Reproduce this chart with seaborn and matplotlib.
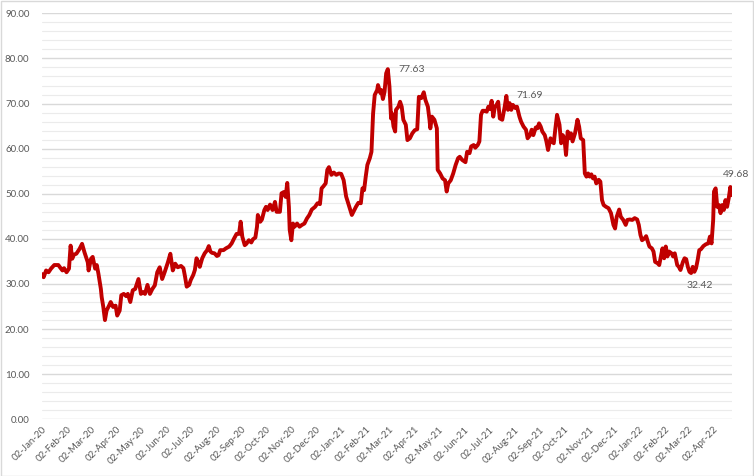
import pandas as pd
import matplotlib.pyplot as plt
import matplotlib.dates as mdates
from matplotlib.ticker import MultipleLocator, FormatStrFormatter
import seaborn as sns

# price readings, 2020
dates_2020 = ['01-02', '01-04', '01-07', '01-10', '01-13', '01-17', '01-22', '01-24', '01-27', '01-29',
              '02-01', '02-04', '02-06', '02-08', '02-10', '02-13', '02-17', '02-20', '02-23', '02-27',
              '02-28', '03-02', '03-04', '03-07', '03-09', '03-11', '03-14', '03-15', '03-17', '03-19',
              '03-21', '03-24', '03-26', '03-29', '04-01', '04-03', '04-06', '04-08', '04-11', '04-14',
              '04-16', '04-19', '04-22', '04-25', '04-29', '05-02', '05-05', '05-07', '05-10', '05-13',
              '05-16', '05-19', '05-22', '05-25', '05-28', '05-31', '06-04', '06-07', '06-10', '06-13',
              '06-16', '06-20', '06-23', '06-25', '06-27', '06-30', '07-02', '07-05', '07-07', '07-09',
              '07-11', '07-13', '07-16', '07-19', '07-22', '07-24', '07-26', '07-28', '07-31', '08-03',
              '08-05', '08-07', '08-11', '08-14', '08-18', '08-21', '08-24', '08-27', '08-30', '09-01',
              '09-03', '09-06', '09-08', '09-11', '09-14', '09-16', '09-19', '09-21', '09-22', '09-25',
              '09-27', '09-30', '10-02', '10-04', '10-07', '10-10', '10-13', '10-15', '10-19', '10-21',
              '10-24', '10-26', '10-28', '10-30', '10-31', '11-02', '11-04', '11-06', '11-09', '11-12',
              '11-15', '11-18', '11-21', '11-24', '11-27', '12-01', '12-04', '12-07', '12-09', '12-11',
              '12-14', '12-16', '12-18', '12-21', '12-24', '12-27', '12-30']
values_2020 = [32.2, 31.5, 33.0, 32.6, 33.4, 34.2, 34.2, 33.7, 33.0, 33.5,
               32.6, 33.4, 38.5, 35.6, 36.5, 36.7, 37.8, 38.9, 37.0, 34.8,
               33.0, 35.6, 36.0, 33.4, 34.2, 32.3, 28.9, 27.1, 24.9, 22.0,
               24.1, 25.2, 26.0, 24.9, 25.2, 23.0, 24.1, 27.5, 27.8, 27.3,
               27.8, 26.0, 28.6, 28.9, 31.1, 27.8, 28.2, 27.8, 29.8, 27.8,
               28.9, 29.7, 32.6, 33.7, 31.1, 32.6, 34.8, 36.7, 33.0, 34.5,
               33.7, 34.0, 33.5, 31.6, 29.4, 29.8, 30.9, 32.0, 33.1, 35.7,
               34.9, 33.8, 35.7, 36.8, 37.5, 38.4, 37.2, 36.9, 36.8, 36.2,
               36.4, 37.5, 37.5, 37.9, 38.3, 39.0, 40.1, 41.1, 41.1, 43.8,
               40.5, 38.6, 38.9, 39.7, 39.2, 39.9, 40.3, 42.7, 45.3, 43.8,
               44.3, 46.4, 47.1, 46.4, 47.6, 46.4, 48.2, 46.0, 46.0, 50.1,
               50.4, 49.3, 52.4, 47.1, 42.0, 39.7, 43.4, 42.7, 43.4, 42.7,
               43.1, 43.4, 44.5, 45.3, 46.5, 47.1, 47.9, 47.7, 51.2, 51.6,
               52.3, 55.3, 55.9, 54.2, 54.7, 54.2, 54.5]

# price readings, 2021
dates_2021 = ['01-02', '01-05', '01-08', '01-12', '01-15', '01-17', '01-20', '01-23', '01-26', '01-28',
              '01-30', '02-01', '02-03', '02-06', '02-08', '02-10', '02-12', '02-15', '02-16', '02-19',
              '02-20', '02-22', '02-24', '02-26', '02-28', '03-02', '03-04', '03-05', '03-07', '03-09',
              '03-10', '03-13', '03-15', '03-17', '03-19', '03-22', '03-24', '03-27', '03-30', '04-02',
              '04-05', '04-07', '04-10', '04-13', '04-15', '04-18', '04-20', '04-21', '04-23', '04-26',
              '04-29', '04-30', '05-03', '05-06', '05-09', '05-11', '05-13', '05-16', '05-19', '05-22',
              '05-25', '05-27', '05-30', '06-03', '06-05', '06-08', '06-10', '06-13', '06-15', '06-18',
              '06-20', '06-22', '06-24', '06-26', '06-29', '07-01', '07-03', '07-05', '07-07', '07-09',
              '07-11', '07-13', '07-15', '07-18', '07-21', '07-23', '07-25', '07-27', '07-29', '07-31',
              '08-03', '08-05', '08-08', '08-10', '08-13', '08-16', '08-18', '08-21', '08-23', '08-25',
              '08-28', '08-30', '09-01', '09-03', '09-05', '09-08', '09-10', '09-12', '09-15', '09-17',
              '09-19', '09-21', '09-23', '09-26', '09-28', '09-30', '10-02', '10-04', '10-06', '10-08',
              '10-10', '10-12', '10-15', '10-18', '10-20', '10-22', '10-25', '10-27', '10-29', '10-31',
              '11-02', '11-04', '11-06', '11-08', '11-10', '11-13', '11-15', '11-17', '11-19', '11-22',
              '11-25', '11-28', '12-01', '12-03', '12-05', '12-08', '12-10', '12-13', '12-16', '12-18',
              '12-21', '12-24', '12-27', '12-30']
values_2021 = [54.4, 53.0, 49.4, 47.1, 45.3, 46.0, 47.1, 48.0, 47.9, 51.2,
               50.8, 53.8, 56.4, 57.9, 59.3, 67.8, 71.9, 73.0, 74.1, 72.3,
               73.0, 71.0, 72.6, 76.7, 77.63, 73.8, 66.7, 67.8, 64.9, 63.8,
               68.6, 69.3, 70.4, 69.3, 66.4, 65.3, 61.9, 62.3, 63.4, 64.1,
               64.3, 71.5, 71.2, 72.5, 70.8, 69.3, 66.4, 64.5, 67.1, 66.4,
               64.5, 55.3, 54.5, 53.4, 53.0, 50.5, 52.3, 53.0, 54.5, 56.4,
               57.9, 58.2, 57.5, 57.0, 59.3, 59.0, 60.5, 60.8, 60.2, 60.8,
               61.6, 67.5, 68.4, 68.4, 68.2, 69.3, 68.8, 70.6, 67.1, 69.3,
               69.7, 70.4, 66.7, 66.4, 69.3, 71.69, 68.6, 70.1, 68.6, 69.7,
               69.0, 69.3, 67.1, 66.0, 64.9, 64.2, 62.3, 63.0, 64.2, 63.0,
               64.7, 64.5, 65.6, 64.9, 63.8, 63.0, 61.6, 59.7, 62.3, 61.6,
               61.2, 64.5, 67.5, 65.3, 61.2, 63.0, 62.3, 58.6, 63.8, 62.3,
               63.4, 61.6, 63.4, 66.4, 64.9, 62.3, 61.9, 54.5, 53.8, 54.5,
               53.8, 54.3, 53.4, 53.8, 52.3, 53.1, 52.7, 48.6, 47.5, 47.1,
               46.8, 45.7, 43.1, 42.3, 44.9, 46.5, 44.9, 44.2, 43.1, 44.2,
               44.3, 44.2, 44.6, 44.3]

# price readings, 2022
dates_2022 = ['01-01', '01-03', '01-05', '01-08', '01-10', '01-12', '01-14', '01-17', '01-19', '01-21',
              '01-24', '01-26', '01-28', '01-30', '02-01', '02-03', '02-05', '02-07', '02-10', '02-12',
              '02-14', '02-17', '02-19', '02-21', '02-24', '02-26', '02-28', '03-02', '03-04', '03-06',
              '03-08', '03-10', '03-12', '03-14', '03-16', '03-18', '03-21', '03-24', '03-27', '03-29',
              '03-31', '04-02', '04-03', '04-05', '04-07', '04-09', '04-11', '04-13', '04-15', '04-17',
              '04-19', '04-21', '04-23', '04-25']
values_2022 = [43.1, 40.9, 39.7, 40.1, 40.6, 39.4, 38.3, 37.9, 37.2, 34.9,
               34.6, 34.2, 36.1, 37.9, 35.7, 38.3, 36.1, 37.2, 36.8, 36.1,
               36.8, 34.2, 33.8, 33.1, 34.9, 35.7, 35.5, 33.8, 32.7, 32.42,
               33.8, 32.7, 33.5, 35.3, 37.5, 37.7, 38.4, 38.8, 39.0, 40.5,
               39.0, 44.2, 50.5, 51.2, 47.1, 47.5, 45.7, 47.5, 46.4, 48.6,
               47.1, 49.0, 51.5, 49.68]

# labelled points: (date, value, offset in points, alignment)
labels = [('2021-02-28', 77.63, (8, 0), 'left'),
          ('2021-07-23', 71.69, (7, 0), 'left'),
          ('2022-03-06', 32.42, (6, -9), 'center'),
          ('2022-04-25', 49.68, (3, 15), 'center')]

dates = ([f'2020-{d}' for d in dates_2020] + [f'2021-{d}' for d in dates_2021]
         + [f'2022-{d}' for d in dates_2022])
df = pd.DataFrame({'date': pd.to_datetime(dates),
                   'value': values_2020 + values_2021 + values_2022})

sns.set_style('white')
plt.rcParams['font.family'] = ['Lato', 'DejaVu Sans']
grey = '#595959'

fig = plt.figure(figsize=(7.54, 4.76), dpi=100)
ax = fig.add_axes([0.0557, 0.1191, 0.9151, 0.8529])

sns.lineplot(data=df, x='date', y='value', ax=ax, color='#C00000', linewidth=2.8)

ax.set_ylim(0, 90)
ax.set_xlim(df['date'].min(), df['date'].max())
ax.yaxis.set_major_locator(MultipleLocator(10))
ax.yaxis.set_minor_locator(MultipleLocator(2))
ax.yaxis.set_major_formatter(FormatStrFormatter('%.2f'))
ax.xaxis.set_major_locator(mdates.MonthLocator(bymonthday=2))
ax.xaxis.set_major_formatter(mdates.DateFormatter('%d-%b-%y'))

ax.grid(which='major', axis='y', color='#d9d9d9', linewidth=1.0)
ax.grid(which='minor', axis='y', color='#ebebeb', linewidth=0.8)
ax.grid(which='major', axis='x', visible=False)
ax.set_axisbelow(True)
for side in ['top', 'right', 'left', 'bottom']:
    ax.spines[side].set_visible(False)

ax.tick_params(axis='both', which='both', length=0, labelsize=7, labelcolor=grey)
ax.tick_params(axis='y', pad=9)
ax.tick_params(axis='x', pad=4)
for lab in ax.get_xticklabels():
    lab.set_rotation(45)
    lab.set_ha('right')
    lab.set_rotation_mode('anchor')
ax.set_xlabel('')
ax.set_ylabel('')

for d, v, off, ha in labels:
    ax.annotate(f'{v:.2f}', xy=(pd.Timestamp(d), v), xytext=off, textcoords='offset points',
                ha=ha, va='center', fontsize=7.5, color=grey)

fig.patches.append(plt.Rectangle((0.001, 0.001), 0.998, 0.997, transform=fig.transFigure,
                                 fill=False, edgecolor='#d9d9d9', linewidth=1))

fig.savefig('out.png', dpi=100)
